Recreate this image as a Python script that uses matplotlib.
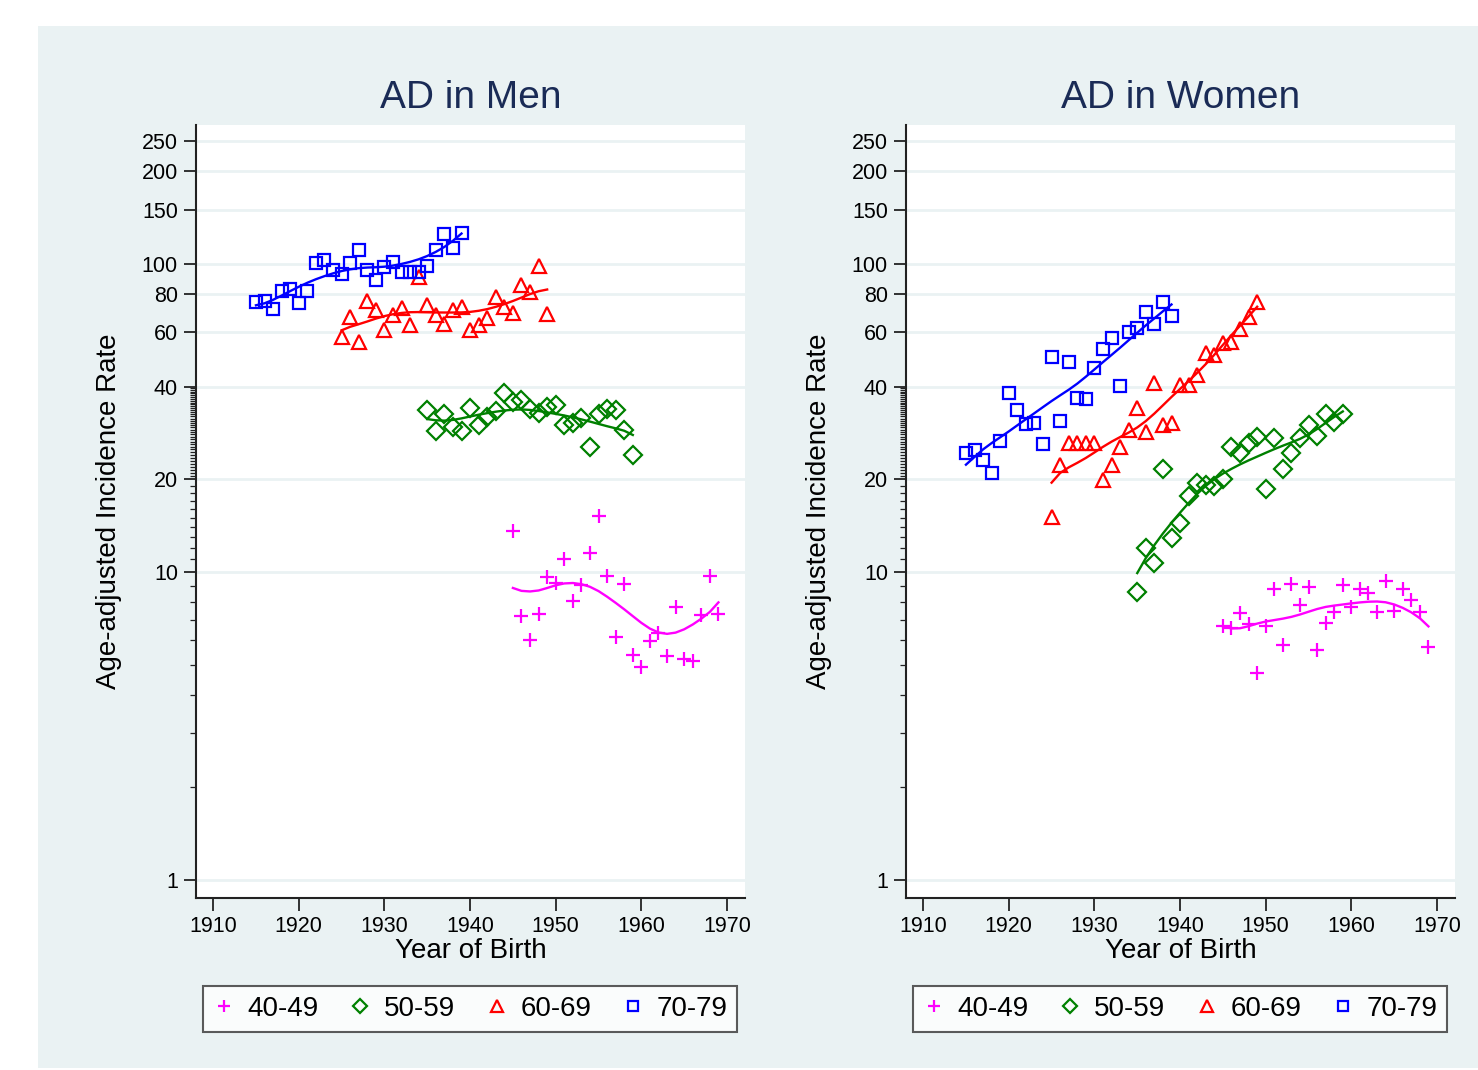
"""AD incidence by birth cohort, men vs women, with lowess fits per age group."""
import numpy as np
import matplotlib
matplotlib.use("Agg")
import matplotlib.pyplot as plt
from matplotlib.patches import Rectangle
from matplotlib.ticker import FixedLocator, NullFormatter

plt.rcParams["font.family"] = ["Liberation Sans", "DejaVu Sans"]

# ---- data (rate per age group, by year of birth) ----
men_70_years = list(range(1915, 1940))
men_70 = [75.1, 76.0, 71.3, 81.9, 82.9, 74.5, 81.9, 100.9, 103.1, 95.6, 92.6, 100.5, 111.0,
          95.6, 88.7, 98.0, 101.7, 94.4, 94.4, 94.4, 98.7, 111.0, 125.1, 112.4, 125.8]
men_60_years = list(range(1925, 1950))
men_60 = [57.8, 67.4, 56.0, 75.8, 70.9, 61.1, 68.3, 71.8, 63.4, 90.9, 73.6, 68.3, 63.9,
          70.9, 72.3, 61.1, 63.4, 66.6, 77.9, 72.3, 69.5, 85.5, 81.3, 98.5, 68.7]
men_50_years = list(range(1935, 1960))
men_50 = [33.6, 28.7, 32.7, 29.5, 28.7, 34.0, 30.0, 31.8, 33.2, 38.0, 35.7, 36.2, 33.8,
          32.9, 34.4, 34.9, 30.0, 30.4, 31.7, 25.5, 32.7, 33.8, 33.6, 28.9, 24.0]
men_40_years = list(range(1945, 1970))
men_40 = [13.6, 7.2, 6.0, 7.3, 9.66, 9.23, 11.0, 8.07, 9.08, 11.55, 15.2, 9.70, 6.14,
          9.14, 5.38, 4.93, 5.97, 6.35, 5.35, 7.71, 5.22, 5.15, 7.25, 9.70, 7.29]

women_70_years = list(range(1915, 1940))
women_70 = [24.3, 24.9, 23.1, 20.9, 26.7, 38.2, 33.6, 30.2, 30.5, 26.0, 49.8, 31.0, 48.1,
            36.8, 36.4, 45.9, 52.8, 57.4, 40.2, 60.3, 62.1, 70.0, 63.9, 75.4, 67.8]
women_60_years = list(range(1925, 1950))
women_60 = [15.05, 22.2, 26.2, 26.2, 26.2, 26.2, 19.9, 22.2, 25.5, 28.9, 34.0, 28.5, 41.2,
            30.0, 30.4, 40.5, 40.5, 43.6, 51.3, 50.6, 55.3, 56.0, 61.4, 67.4, 75.4]
women_50_years = list(range(1935, 1960))
women_50 = [8.63, 11.94, 10.67, 21.6, 12.86, 14.4, 17.66, 19.4, 19.2, 19.0, 20.1, 25.5, 24.3,
            26.2, 27.5, 18.56, 27.2, 21.6, 24.4, 27.2, 30.0, 27.7, 32.7, 30.8, 32.7]
women_40_years = list(range(1945, 1970))
women_40 = [6.68, 6.56, 7.38, 6.78, 4.71, 6.68, 8.81, 5.79, 9.14, 7.81, 8.96, 5.58, 6.85,
            7.43, 9.08, 7.71, 8.78, 8.57, 7.43, 9.35, 7.49, 8.81, 8.11, 7.43, 5.70]

age_labels = ["40-49", "50-59", "60-69", "70-79"]
colors = ["#ff00ff", "#008000", "#ff0000", "#0000ff"]
markers = ["+", "D", "^", "s"]
msizes = [10, 9, 10.5, 9]

y_ticks = [1, 10, 20, 40, 60, 80, 100, 150, 200, 250]
x_ticks = list(range(1910, 1971, 10))


def lowess(x, y, bw=0.8):
    """Stata-style running-line lowess with tricube weights."""
    x = np.asarray(x, float)
    y = np.asarray(y, float)
    n = len(x)
    k = int(np.floor((n * bw - 0.5) / 2))
    out = np.empty(n)
    for i in range(n):
        lo, hi = max(0, i - k), min(n - 1, i + k)
        xs, ys = x[lo:hi + 1], y[lo:hi + 1]
        delta = 1.0001 * max(x[hi] - x[i], x[i] - x[lo])
        w = (1 - (np.abs(xs - x[i]) / delta) ** 3) ** 3
        xm = np.sum(w * xs) / np.sum(w)
        ym = np.sum(w * ys) / np.sum(w)
        b = np.sum(w * (xs - xm) * (ys - ym)) / np.sum(w * (xs - xm) ** 2)
        out[i] = ym + b * (x[i] - xm)
    return out


W, H = 1478, 1070
fig = plt.figure(figsize=(W / 100, H / 100), dpi=100)
fig.patches.append(Rectangle((38 / W, 2 / H), 1 - 38 / W, 1 - 28 / H,
                             transform=fig.transFigure, facecolor="#eaf2f3",
                             edgecolor="none", zorder=-10))

panels = [
    ("AD in Men", 196, [(men_40_years, men_40), (men_50_years, men_50),
                        (men_60_years, men_60), (men_70_years, men_70)]),
    ("AD in Women", 906, [(women_40_years, women_40), (women_50_years, women_50),
                          (women_60_years, women_60), (women_70_years, women_70)]),
]

for title, left_px, series in panels:
    ax = fig.add_axes([left_px / W, (H - 898) / H, 549 / W, 773 / H])
    ax.set_yscale("log")
    ax.set_xlim(1908.0, 1972.1)
    ax.set_ylim(0.874, 282.7)

    handles = []
    for (yrs, vals), lab, c, m, ms in zip(series, age_labels, colors, markers, msizes):
        h, = ax.plot(yrs, vals, linestyle="none", marker=m, markersize=ms,
                     markerfacecolor="none", markeredgecolor=c, markeredgewidth=1.6,
                     label=lab, zorder=3)
        handles.append(h)
        fit = np.exp(lowess(yrs, np.log(vals)))
        ax.plot(yrs, fit, color=c, linewidth=1.7, zorder=2)

    ax.yaxis.set_major_locator(FixedLocator(y_ticks))
    ax.set_yticklabels([str(t) for t in y_ticks])
    minor = list(range(2, 10)) + list(range(11, 20)) + list(np.arange(20.5, 40, 0.5))
    ax.yaxis.set_minor_locator(FixedLocator(minor))
    ax.yaxis.set_minor_formatter(NullFormatter())
    ax.set_xticks(x_ticks)

    ax.grid(axis="y", which="major", color="#eaf2f3", linewidth=2)
    ax.set_axisbelow(True)
    for s in ("top", "right"):
        ax.spines[s].set_visible(False)
    for s in ("left", "bottom"):
        ax.spines[s].set_linewidth(1.5)
        ax.spines[s].set_color("#222222")
    ax.tick_params(axis="both", which="major", length=9, width=1.3, labelsize=15.5,
                   color="#222222", pad=4)
    ax.tick_params(axis="y", which="minor", length=4.5, width=0.9, color="#222222")

    ax.set_title(title, fontsize=28, color="#1a2b56", pad=12)
    ax.set_xlabel("Year of Birth", fontsize=20, labelpad=1)
    ax.set_ylabel("Age-adjusted Incidence Rate", fontsize=20, labelpad=14)

    leg = ax.legend(handles=handles, loc="center", ncol=4,
                    bbox_to_anchor=((left_px + 274) / W, 61 / H),
                    bbox_transform=fig.transFigure, fontsize=20, markerscale=0.8,
                    frameon=True, fancybox=False, edgecolor="#333333",
                    handlelength=0.8, handletextpad=0.45, columnspacing=1.1,
                    borderpad=0.35)
    leg.get_frame().set_linewidth(1.5)

fig.savefig("out.png", dpi=100, facecolor="white")
print("Saved out.png")
